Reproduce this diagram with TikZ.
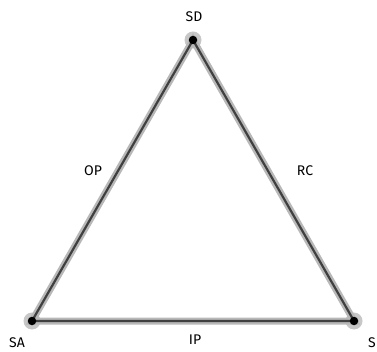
\documentclass[tikz,border=0pt]{standalone}
\usepackage{fontspec}
\setmainfont{Fira Sans}
\tikzset{
  halo/.style={line width=7pt, draw=black!28, line cap=round},
  edge/.style={line width=2.2pt, draw=black!75},
  vhalo/.style={circle, fill=black!22, minimum size=17pt, inner sep=0pt},
  vdot/.style={circle, fill=black, minimum size=8.5pt, inner sep=0pt},
  lbl/.style={font=\fontsize{14}{16}\selectfont, text=black}
}
\begin{document}
\begin{tikzpicture}[x=1pt,y=-1pt]
\useasboundingbox (0,0) rectangle (377,352);
\coordinate (SD) at (193,40);
\coordinate (SA) at (32,321);
\coordinate (S) at (354,321);
\node[vhalo] at (SD) {};
\node[vhalo] at (SA) {};
\node[vhalo] at (S) {};
\draw[halo] (SD) -- (SA) -- (S) -- cycle;
\draw[edge] (SD) -- (SA) (SA) -- (S) (S) -- (SD);
\node[vdot] (nSD) at (SD) {};
\node[vdot] (nSA) at (SA) {};
\node[vdot] (nS) at (S) {};
\node[lbl] (tSD) at (194,17) {SD};
\node[lbl] (tSA) at (17,343) {SA};
\node[lbl] (tS) at (372,343) {S};
\node[lbl] (tOP) at (93,171) {OP};
\node[lbl] (tRC) at (305,171) {RC};
\node[lbl] (tIP) at (195,340) {IP};
\end{tikzpicture}
\end{document}
